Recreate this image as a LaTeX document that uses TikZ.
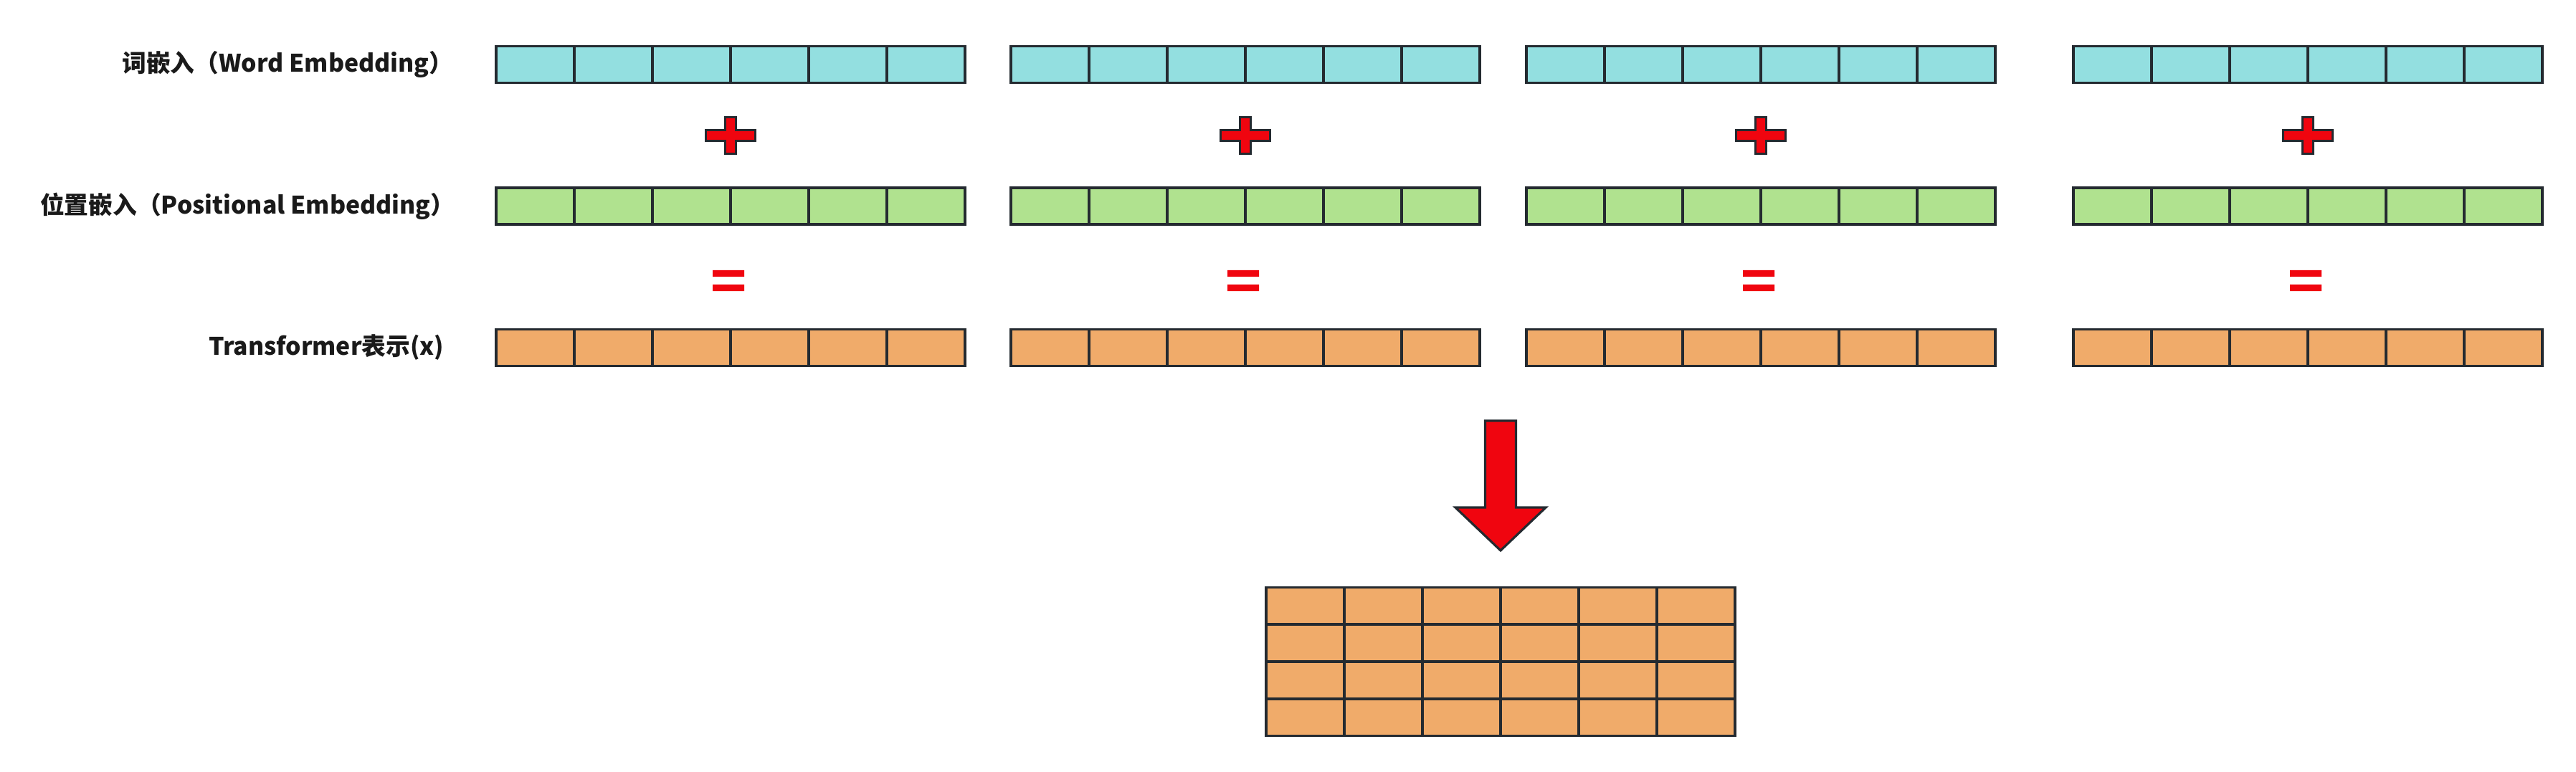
\documentclass[tikz,border=0pt]{standalone}
\usepackage{fontspec}
\newfontfamily\cjk{Noto Sans CJK SC}
\usepackage{tikz}
\usetikzlibrary{positioning}
\definecolor{wordc}{RGB}{147,223,224}
\definecolor{posc}{RGB}{176,226,143}
\definecolor{repc}{RGB}{240,171,106}
\definecolor{signred}{RGB}{240,5,15}
\definecolor{edge}{RGB}{36,42,48}
\definecolor{labelc}{RGB}{26,26,26}
\tikzset{
  cell/.style={rectangle, draw=edge, line width=0.9pt, minimum width=10.9mm,
               minimum height=5.1mm, inner sep=0pt, outer sep=0pt},
  rowlabel/.style={anchor=east, inner sep=0pt, text=labelc,
                   font=\cjk\bfseries\fontsize{9.6}{12}\selectfont},
  signpath/.style={fill=signred, draw=edge, line width=0.9pt},
}

\begin{document}
\begin{tikzpicture}
  \useasboundingbox (0,0) rectangle (35.93,-10.77);
  % row labels
  \node[rowlabel] (lword) at (6.33,-0.90) {词嵌入（Word Embedding）};
  \node[rowlabel] (lpos)  at (6.35,-2.875) {位置嵌入（Positional Embedding）};
  \node[rowlabel] (lrep)  at (6.20,-4.85) {Transformer表示(x)};
  % four tokens: word + position = representation
  \foreach \g/\gx in {1/6.92, 2/14.10, 3/21.29, 4/28.92} {
    \foreach \c in {1,...,6} {
      \node[cell, fill=wordc] (w\g-\c) at ({\gx+(\c-0.5)*1.09},-0.90) {};
      \node[cell, fill=posc]  (p\g-\c) at ({\gx+(\c-0.5)*1.09},-2.875) {};
      \node[cell, fill=repc]  (x\g-\c) at ({\gx+(\c-0.5)*1.09},-4.85) {};
    }
    % plus sign
    \draw[signpath, shift={({\gx+3.27},-1.89)}]
      (-0.073,0.253) -- (0.073,0.253) -- (0.073,0.072) -- (0.345,0.072)
      -- (0.345,-0.072) -- (0.073,-0.072) -- (0.073,-0.253) -- (-0.073,-0.253)
      -- (-0.073,-0.072) -- (-0.345,-0.072) -- (-0.345,0.072) -- (-0.073,0.072) -- cycle;
    % equals sign
    \fill[signred, shift={({\gx+3.24},-3.915)}]
      (-0.22,0.145) rectangle (0.22,0.055)
      (-0.22,-0.055) rectangle (0.22,-0.145);
  }
  % big down arrow
  \draw[signpath] (20.715,-5.87) -- (21.145,-5.87) -- (21.145,-7.08) -- (21.56,-7.08)
    -- (20.93,-7.68) -- (20.30,-7.08) -- (20.715,-7.08) -- cycle;
  % stacked matrix
  \foreach \r in {1,...,4} {
    \foreach \c in {1,...,6} {
      \node[cell, fill=repc] (m\r-\c) at ({17.66+(\c-0.5)*1.09},{-8.19-(\r-0.5)*0.52}) {};
    }
  }
\end{tikzpicture}
\end{document}
